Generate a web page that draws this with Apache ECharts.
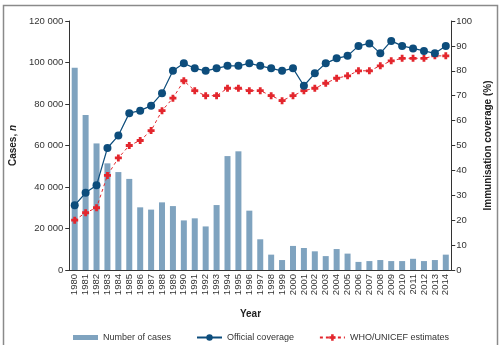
<!DOCTYPE html>
<html>
<head>
<meta charset="utf-8">
<script src="https://cdn.jsdelivr.net/npm/echarts@6/dist/echarts.min.js"></script>
<style>
html,body{margin:0;padding:0;background:#fff;}
#chart{width:501px;height:345px;}
</style>
</head>
<body>
<div id="chart"></div>
<script>
var years = [];
for (var y = 1980; y <= 2014; y++) years.push(String(y));

// 病例数
var cases = [97500, 74700, 61000, 51400, 47200, 43900, 30200, 29100, 32600, 30800,
	23900, 24900, 21000, 31300, 54900, 57200, 28600, 14800, 7400, 4800,
	11600, 10600, 9000, 6700, 10100, 7900, 3900, 4300, 4800, 4300,
	4300, 5400, 4300, 4800, 7400];
// 官方覆盖率
var official = [26, 31, 34, 49, 54, 63, 64, 66, 71, 80,
	83, 81, 80, 81, 82, 82, 83, 82, 81, 80,
	81, 74, 79, 83, 85, 86, 90, 91, 87, 92,
	90, 89, 88, 87, 90];
// WHO/UNICEF 估计
var whoUnicef = [20, 23, 25, 38, 45, 50, 52, 56, 64, 69,
	76, 72, 70, 70, 73, 73, 72, 72, 70, 68,
	70, 72, 73, 75, 77, 78, 80, 80, 82, 84,
	85, 85, 85, 86, 86];

var font = 'Liberation Sans';
var txt = '#333';

function thousands(v){
	return String(v).replace(/\B(?=(\d{3})+(?!\d))/g, ' ');
}

var chart = echarts.init(document.getElementById('chart'));
chart.setOption({
	animation: false,
	textStyle: {fontFamily: font},
	title: {
		text: 'Year',
		left: 'center',
		top: 304,
		textStyle: {fontSize: 10, fontWeight: 'bold', color: '#222', fontFamily: font}
	},
	graphic: [{
		type: 'rect',
		shape: {x: 3.5, y: 5.5, width: 494, height: 350},
		style: {fill: 'none', stroke: '#8a8a8a', lineWidth: 1.5},
		silent: true
	}],
	grid: {left: 59, right: 38, top: 21, bottom: 75},
	legend: {
		left: 68,
		top: 328,
		itemWidth: 25,
		itemHeight: 8,
		itemGap: 25,
		textStyle: {fontSize: 9, color: txt, fontFamily: font},
		data: [
			{name: 'Number of cases', icon: 'path://M0,0h50v10h-50z'},
			{name: 'Official coverage'},
			{name: 'WHO/UNICEF estimates'}
		]
	},
	xAxis: {
		type: 'category',
		data: years,
		axisLine: {lineStyle: {color: '#333', width: 1}},
		axisTick: {length: 4, lineStyle: {color: '#333'}},
		axisLabel: {rotate: 90, interval: 0, margin: 4, fontSize: 9.5, color: txt}
	},
	yAxis: [
		{
			type: 'value',
			min: 0, max: 120000, interval: 20000,
			name: '{a|Cases, }{b|n}',
			nameLocation: 'middle',
			nameRotate: 90,
			nameGap: 45,
			nameTextStyle: {
				rich: {
					a: {fontSize: 10, fontWeight: 'bold', color: '#222', fontFamily: font},
					b: {fontSize: 10, fontWeight: 'bold', fontStyle: 'italic', color: '#222', fontFamily: font}
				}
			},
			splitLine: {show: false},
			axisLine: {show: true, lineStyle: {color: '#333', width: 1}},
			axisTick: {show: true, length: 4, lineStyle: {color: '#333'}},
			axisLabel: {margin: 6, fontSize: 9.5, color: txt, formatter: thousands}
		},
		{
			type: 'value',
			min: 0, max: 100, interval: 10,
			name: 'Immunisation coverage (%)',
			nameLocation: 'middle',
			nameRotate: 90,
			nameGap: 30,
			nameTextStyle: {fontSize: 10, fontWeight: 'bold', color: '#222', fontFamily: font},
			splitLine: {show: false},
			axisLine: {show: true, lineStyle: {color: '#333', width: 1}},
			axisTick: {show: true, length: 4, lineStyle: {color: '#333'}},
			axisLabel: {margin: 5, fontSize: 9.5, color: txt}
		}
	],
	series: [
		{
			name: 'Number of cases',
			type: 'bar',
			data: cases,
			barWidth: 6,
			itemStyle: {color: '#7fa3bf'}
		},
		{
			name: 'Official coverage',
			type: 'line',
			yAxisIndex: 1,
			data: official,
			symbol: 'circle',
			symbolSize: 8,
			itemStyle: {color: '#0d4d7c'},
			lineStyle: {color: '#0d4d7c', width: 1.2},
			z: 4
		},
		{
			name: 'WHO/UNICEF estimates',
			type: 'line',
			yAxisIndex: 1,
			data: whoUnicef,
			symbol: 'path://M3,0h4v3h3v4h-3v3h-4v-3h-3v-4h3z',
			symbolSize: 7,
			itemStyle: {color: '#e3262d'},
			lineStyle: {color: '#e3262d', width: 1, type: [3, 3]},
			z: 3
		}
	]
});
</script>
</body>
</html>
